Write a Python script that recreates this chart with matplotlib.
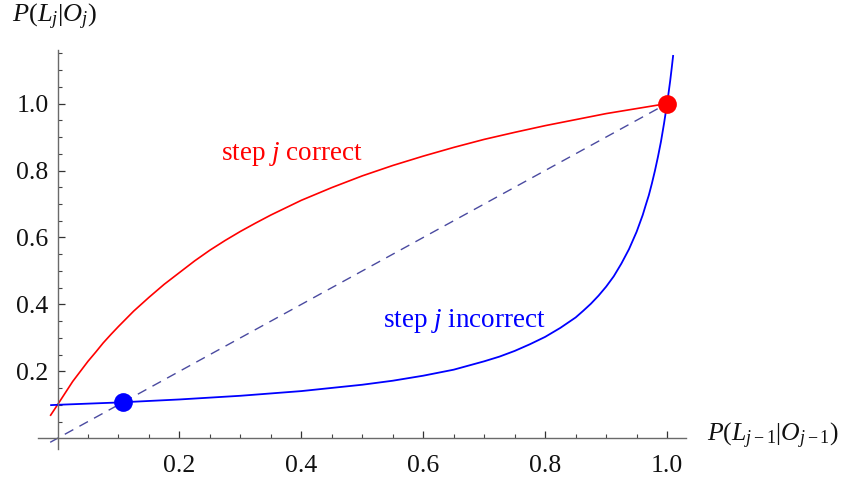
import matplotlib
matplotlib.use("Agg")
import matplotlib.pyplot as plt
from matplotlib.ticker import FixedLocator

plt.rcParams['font.family'] = ['Liberation Serif', 'DejaVu Serif']
plt.rcParams['mathtext.fontset'] = 'custom'
plt.rcParams['mathtext.rm'] = 'Liberation Serif'
plt.rcParams['mathtext.it'] = 'Liberation Serif:italic'
plt.rcParams['mathtext.bf'] = 'Liberation Serif:bold'

# ---- data ----
correct_x = [-0.012, 0.0, 0.0125, 0.025, 0.0375, 0.05, 0.0625, 0.075, 0.0875, 0.1, 0.125, 0.15,
             0.175, 0.2, 0.225, 0.25, 0.275, 0.3, 0.325, 0.35, 0.4, 0.45, 0.5, 0.55, 0.6,
             0.65, 0.7, 0.75, 0.8, 0.85, 0.9, 0.95, 1.0]
correct_y = [0.067, 0.100, 0.135, 0.170, 0.200, 0.230, 0.257, 0.285, 0.310, 0.334, 0.380, 0.421,
             0.460, 0.495, 0.530, 0.562, 0.591, 0.618, 0.643, 0.667, 0.711, 0.749, 0.784, 0.815, 0.843,
             0.869, 0.893, 0.914, 0.934, 0.952, 0.970, 0.985, 1.000]

incorrect_x = [-0.012, 0.0, 0.1, 0.2, 0.3, 0.4, 0.5, 0.55, 0.6, 0.65, 0.7, 0.725, 0.75, 0.775,
               0.8, 0.825, 0.85, 0.8625, 0.875, 0.8875, 0.9, 0.9125, 0.925, 0.9375, 0.95, 0.955,
               0.96, 0.965, 0.97, 0.975, 0.98, 0.985, 0.99, 0.995, 1.0, 1.0025, 1.005, 1.0075, 1.01]
incorrect_y = [0.099, 0.100, 0.107, 0.116, 0.127, 0.141, 0.160, 0.172, 0.187, 0.205, 0.230, 0.244,
               0.261, 0.281, 0.303, 0.330, 0.361, 0.381, 0.402, 0.426, 0.453, 0.484, 0.522, 0.565,
               0.617, 0.642, 0.667, 0.697, 0.726, 0.761, 0.799, 0.841, 0.887, 0.941, 1.000, 1.033,
               1.067, 1.105, 1.145]

diag_x = [-0.012, 1.0]
diag_y = [-0.012, 1.0]

fixed_points_x = [0.108, 1.0]
fixed_points_y = [0.108, 1.0]

x_major = [0.2, 0.4, 0.6, 0.8, 1.0]
x_labels = ["0.2", "0.4", "0.6", "0.8", "1.0"]
y_major = [0.2, 0.4, 0.6, 0.8, 1.0]
y_labels = ["0.2", "0.4", "0.6", "0.8", "1.0"]

fig = plt.figure(figsize=(8.44, 4.80), dpi=100)
ax = fig.add_axes([38/844, 1-449/480, (686-38)/844, (449-50)/480])

ax.plot(diag_x, diag_y, color='#4a4aa0', lw=1.0, linestyle=(0, (7, 5)))
ax.plot(correct_x, correct_y, color='#ff0000', lw=1.2, solid_capstyle='butt', solid_joinstyle='round')
ax.plot(incorrect_x, incorrect_y, color='#0000ff', lw=1.3, solid_capstyle='butt', solid_joinstyle='round')
ax.plot(fixed_points_x[:1], fixed_points_y[:1], 'o', color='#0000ff', ms=13.5, mec='none')
ax.plot(fixed_points_x[1:], fixed_points_y[1:], 'o', color='#ff0000', ms=13.5, mec='none', clip_on=False)

ax.set_xlim(-0.032, 1.031)
ax.set_ylim(-0.032, 1.16)

for s in ['top', 'right']:
    ax.spines[s].set_visible(False)
ax.spines['left'].set_position(('data', 0))
ax.spines['bottom'].set_position(('data', 0))
for s in ['left', 'bottom']:
    ax.spines[s].set_color('#6a6a6a')
    ax.spines[s].set_linewidth(1.0)

ax.xaxis.set_major_locator(FixedLocator(x_major))
ax.set_xticklabels(x_labels)
ax.yaxis.set_major_locator(FixedLocator(y_major))
ax.set_yticklabels(y_labels)
ax.xaxis.set_minor_locator(FixedLocator([0.05, 0.1, 0.15, 0.25, 0.3, 0.35, 0.45, 0.5, 0.55,
                                         0.65, 0.7, 0.75, 0.85, 0.9, 0.95]))
ax.yaxis.set_minor_locator(FixedLocator([0.05, 0.1, 0.15, 0.25, 0.3, 0.35, 0.45, 0.5, 0.55,
                                         0.65, 0.7, 0.75, 0.85, 0.9, 0.95, 1.05, 1.1, 1.15]))
ax.tick_params(axis='both', which='major', direction='in', length=5, width=0.9,
               color='#333333', labelsize=18.5, labelcolor='#111111')
ax.tick_params(axis='both', which='minor', direction='in', length=3.2, width=0.8, color='#444444')
ax.tick_params(axis='x', which='major', pad=12)
ax.tick_params(axis='y', which='major', pad=6.5)

ax.text(0.385, 0.848, r"step $j$ correct", color='#ff0000', fontsize=19.5, ha='center', va='center')
ax.text(0.667, 0.349, r"step $j$ incorrect", color='#0000ff', fontsize=19.5, ha='center', va='center')

fig.text(12/844, 1-22/480, r"$P(L_j|O_j)$", fontsize=19, ha='left', va='baseline', color='#111111')
fig.text(707/844, 1-441/480, r"$P(L_{j-1}|O_{j-1})$", fontsize=18.5, ha='left', va='baseline', color='#111111')

fig.savefig("out.png", dpi=100)
